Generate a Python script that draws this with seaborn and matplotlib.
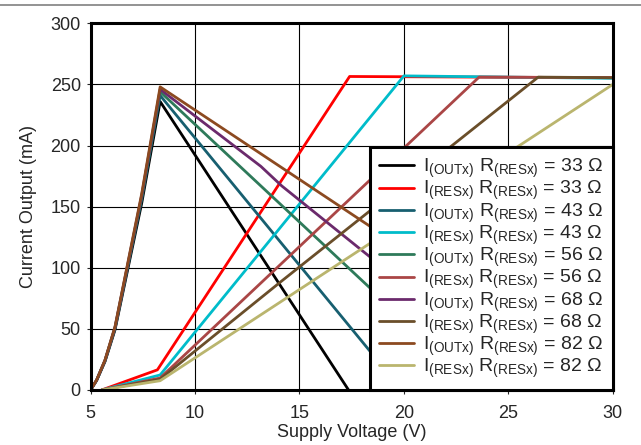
import matplotlib
matplotlib.use("Agg")
import matplotlib.pyplot as plt
from matplotlib.lines import Line2D
import seaborn as sns

# rise of the I(OUTx) curves (shared shape, scaled to each peak)
rise_v = [5.0, 5.29, 5.69, 6.17, 6.65, 7.45, 8.33]
rise_i = [0, 8.2, 24.5, 51.8, 92.7, 160.8, 248]

out_33_v = rise_v + [17.35]
out_33_i = [v * 236 / 248 for v in rise_i] + [0]
out_43_v = rise_v + [19.9]
out_43_i = [v * 241 / 248 for v in rise_i] + [0]
out_56_v = rise_v + [23.6]
out_56_i = [v * 244 / 248 for v in rise_i] + [0]
out_68_v = rise_v + [13.15, 14.15, 18.15, 26.4]
out_68_i = [v * 246 / 248 for v in rise_i] + [183, 167, 112, 0]
out_82_v = rise_v + [30]
out_82_i = rise_i + [2]

res_33_v = [5.53, 8.2, 17.4, 30]
res_33_i = [0, 16.5, 256.5, 255.5]
res_43_v = [5.53, 8.33, 20.0, 30]
res_43_i = [0, 12.3, 257, 255]
res_56_v = [5.53, 8.33, 23.6, 30]
res_56_i = [0, 9.8, 256, 255.5]
res_68_v = [5.53, 8.33, 14.1, 26.43, 30]
res_68_i = [0, 8.8, 88.5, 256, 255.5]
res_82_v = [5.53, 8.33, 30]
res_82_i = [0, 7.6, 250]

OUT = r"I$_{\mathregular{(OUTx)}}$ R$_{\mathregular{(RESx)}}$"
RES = r"I$_{\mathregular{(RESx)}}$ R$_{\mathregular{(RESx)}}$"

series = [
    (out_33_v, out_33_i, OUT + " = 33 Ω", "#000000"),
    (res_33_v, res_33_i, RES + " = 33 Ω", "#ff0000"),
    (out_43_v, out_43_i, OUT + " = 43 Ω", "#175f70"),
    (res_43_v, res_43_i, RES + " = 43 Ω", "#00bcca"),
    (out_56_v, out_56_i, OUT + " = 56 Ω", "#2e7a5a"),
    (res_56_v, res_56_i, RES + " = 56 Ω", "#aa4646"),
    (out_68_v, out_68_i, OUT + " = 68 Ω", "#6b2a6c"),
    (res_68_v, res_68_i, RES + " = 68 Ω", "#6a4e2a"),
    (out_82_v, out_82_i, OUT + " = 82 Ω", "#8c4a20"),
    (res_82_v, res_82_i, RES + " = 82 Ω", "#bab56e"),
]

sns.set_style("white")
plt.rcParams['font.family'] = ['Liberation Sans', 'DejaVu Sans']
plt.rcParams['mathtext.fontset'] = 'custom'
plt.rcParams['mathtext.rm'] = 'Liberation Sans'
plt.rcParams['mathtext.it'] = 'Liberation Sans'

fig = plt.figure(figsize=(6.41, 4.45), dpi=100)
ax = fig.add_axes([0.1413, 0.1236, 0.8147, 0.824])

for v, i, lab, col in series:
    sns.lineplot(x=v, y=i, ax=ax, color=col, label=lab, linewidth=2,
                 sort=False, estimator=None)

ax.set_xlim(5, 30)
ax.set_ylim(0, 300)
ax.set_xticks([5, 10, 15, 20, 25, 30])
ax.set_yticks([0, 50, 100, 150, 200, 250, 300])
ax.grid(True, color="#000000", linewidth=0.8)
ax.set_axisbelow(True)
for s in ax.spines.values():
    s.set_linewidth(2.2)
    s.set_color("black")
ax.tick_params(axis="both", labelsize=13, length=3, width=0.8, direction="out",
               left=True, bottom=True)
ax.tick_params(axis="x", pad=8)
ax.tick_params(axis="y", pad=4)
ax.set_xlabel("Supply Voltage (V)", fontsize=13, labelpad=1)
ax.set_ylabel("Current Output (mA)", fontsize=13, labelpad=10)

leg = ax.legend(loc="lower right", borderaxespad=0, fontsize=14,
                frameon=True, fancybox=False, handlelength=1.8,
                handletextpad=0.45, labelspacing=-0.05, borderpad=0.5)
leg.get_frame().set_edgecolor("black")
leg.get_frame().set_linewidth(2.2)
leg.get_frame().set_alpha(1)

fig.add_artist(Line2D([0, 1], [0.989, 0.989], color="#808080", linewidth=1.2))

fig.savefig("out.png", dpi=100)
